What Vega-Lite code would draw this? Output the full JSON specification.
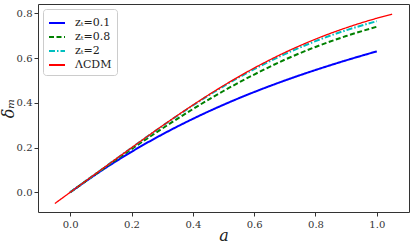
{
  "$schema": "https://vega.github.io/schema/vega-lite/v6.json",
  "autosize": "none",
  "width": 371,
  "height": 208,
  "padding": {"left": 38, "top": 4, "right": 6, "bottom": 36},
  "config": {
    "view": {"stroke": "#333", "strokeWidth": 1},
    "font": "DejaVu Serif"
  },
  "data": {
    "values": [
      {"a": 0.0, "d": 0.0, "m": "zₜ=0.1"},
      {"a": 0.1, "d": 0.0951, "m": "zₜ=0.1"},
      {"a": 0.2, "d": 0.181, "m": "zₜ=0.1"},
      {"a": 0.3, "d": 0.2585, "m": "zₜ=0.1"},
      {"a": 0.4, "d": 0.3283, "m": "zₜ=0.1"},
      {"a": 0.5, "d": 0.3913, "m": "zₜ=0.1"},
      {"a": 0.6, "d": 0.4481, "m": "zₜ=0.1"},
      {"a": 0.7, "d": 0.4996, "m": "zₜ=0.1"},
      {"a": 0.8, "d": 0.5466, "m": "zₜ=0.1"},
      {"a": 0.9, "d": 0.5898, "m": "zₜ=0.1"},
      {"a": 1.0, "d": 0.63, "m": "zₜ=0.1"},
      {"a": 0.0, "d": 0.0, "m": "zₜ=0.8"},
      {"a": 0.1, "d": 0.0979, "m": "zₜ=0.8"},
      {"a": 0.2, "d": 0.1933, "m": "zₜ=0.8"},
      {"a": 0.3, "d": 0.2847, "m": "zₜ=0.8"},
      {"a": 0.4, "d": 0.3719, "m": "zₜ=0.8"},
      {"a": 0.5, "d": 0.4528, "m": "zₜ=0.8"},
      {"a": 0.6, "d": 0.5264, "m": "zₜ=0.8"},
      {"a": 0.7, "d": 0.5927, "m": "zₜ=0.8"},
      {"a": 0.8, "d": 0.6496, "m": "zₜ=0.8"},
      {"a": 0.9, "d": 0.6983, "m": "zₜ=0.8"},
      {"a": 1.0, "d": 0.7399, "m": "zₜ=0.8"},
      {"a": 0.0, "d": 0.0, "m": "zₜ=2"},
      {"a": 0.1, "d": 0.0999, "m": "zₜ=2"},
      {"a": 0.2, "d": 0.199, "m": "zₜ=2"},
      {"a": 0.3, "d": 0.2957, "m": "zₜ=2"},
      {"a": 0.4, "d": 0.3879, "m": "zₜ=2"},
      {"a": 0.5, "d": 0.4738, "m": "zₜ=2"},
      {"a": 0.6, "d": 0.5504, "m": "zₜ=2"},
      {"a": 0.7, "d": 0.6177, "m": "zₜ=2"},
      {"a": 0.8, "d": 0.6756, "m": "zₜ=2"},
      {"a": 0.9, "d": 0.7243, "m": "zₜ=2"},
      {"a": 1.0, "d": 0.7649, "m": "zₜ=2"},
      {"a": -0.05, "d": -0.05, "m": "ΛCDM"},
      {"a": 0.0, "d": 0.0, "m": "ΛCDM"},
      {"a": 0.1, "d": 0.0999, "m": "ΛCDM"},
      {"a": 0.2, "d": 0.1993, "m": "ΛCDM"},
      {"a": 0.3, "d": 0.2967, "m": "ΛCDM"},
      {"a": 0.4, "d": 0.3899, "m": "ΛCDM"},
      {"a": 0.5, "d": 0.4768, "m": "ΛCDM"},
      {"a": 0.6, "d": 0.5554, "m": "ΛCDM"},
      {"a": 0.7, "d": 0.6247, "m": "ΛCDM"},
      {"a": 0.8, "d": 0.6846, "m": "ΛCDM"},
      {"a": 0.9, "d": 0.7353, "m": "ΛCDM"},
      {"a": 1.0, "d": 0.7779, "m": "ΛCDM"},
      {"a": 1.05, "d": 0.7965, "m": "ΛCDM"}
    ]
  },
  "mark": {"type": "line", "interpolate": "monotone", "clip": true},
  "encoding": {
    "x": {
      "field": "a", "type": "quantitative",
      "scale": {"domain": [-0.105, 1.105], "nice": false, "zero": false},
      "axis": {
        "title": "a", "titleFont": "DejaVu Serif", "titleFontStyle": "italic", "titleFontWeight": "normal",
        "titleFontSize": 16, "titleColor": "#222", "titleY": 28, "titleBaseline": "alphabetic",
        "values": [0, 0.2, 0.4, 0.6, 0.8, 1.0], "format": ".1f",
        "grid": false, "domain": false, "tickColor": "#333", "tickSize": 4,
        "labelFont": "DejaVu Serif", "labelFontSize": 10, "labelColor": "#333", "labelPadding": 3
      }
    },
    "y": {
      "field": "d", "type": "quantitative",
      "scale": {"domain": [-0.088, 0.8416], "nice": false, "zero": false},
      "axis": {
        "title": "δₘ", "titleFont": "DejaVu Serif", "titleFontStyle": "italic", "titleFontWeight": "normal",
        "titleFontSize": 16, "titleColor": "#222", "titleX": -22, "titleY": 104,
        "values": [0, 0.2, 0.4, 0.6, 0.8], "format": ".1f",
        "grid": false, "domain": false, "tickColor": "#333", "tickSize": 4,
        "labelFont": "DejaVu Serif", "labelFontSize": 10, "labelColor": "#333", "labelPadding": 2
      }
    },
    "color": {
      "field": "m", "type": "nominal",
      "scale": {"domain": ["zₜ=0.1", "zₜ=0.8", "zₜ=2", "ΛCDM"], "range": ["#0000ff", "#008000", "#00bfbf", "#ff0000"]},
      "legend": {
        "title": null, "orient": "none", "legendX": 5, "legendY": 5,
        "symbolType": "stroke", "symbolSize": 256, "symbolStrokeWidth": 2,
        "labelFont": "DejaVu Serif", "labelFontSize": 11, "labelColor": "#222",
        "rowPadding": 0, "padding": 5, "fillColor": "white", "strokeColor": "#ccc", "cornerRadius": 3,
        "labelOffset": 9
      }
    },
    "strokeDash": {
      "field": "m", "type": "nominal",
      "scale": {"domain": ["zₜ=0.1", "zₜ=0.8", "zₜ=2", "ΛCDM"], "range": [[1, 0], [5, 2.5], [6, 2, 1.5, 2], [1, 0]]},
      "legend": {
        "title": null, "orient": "none", "legendX": 5, "legendY": 5,
        "symbolType": "stroke", "symbolSize": 256, "symbolStrokeWidth": 2,
        "labelFont": "DejaVu Serif", "labelFontSize": 11, "labelColor": "#222",
        "rowPadding": 0, "padding": 5, "fillColor": "white", "strokeColor": "#ccc", "cornerRadius": 3,
        "labelOffset": 9
      }
    },
    "strokeWidth": {
      "condition": {"test": "datum.m === 'ΛCDM'", "value": 1.3},
      "value": 2
    }
  }
}
